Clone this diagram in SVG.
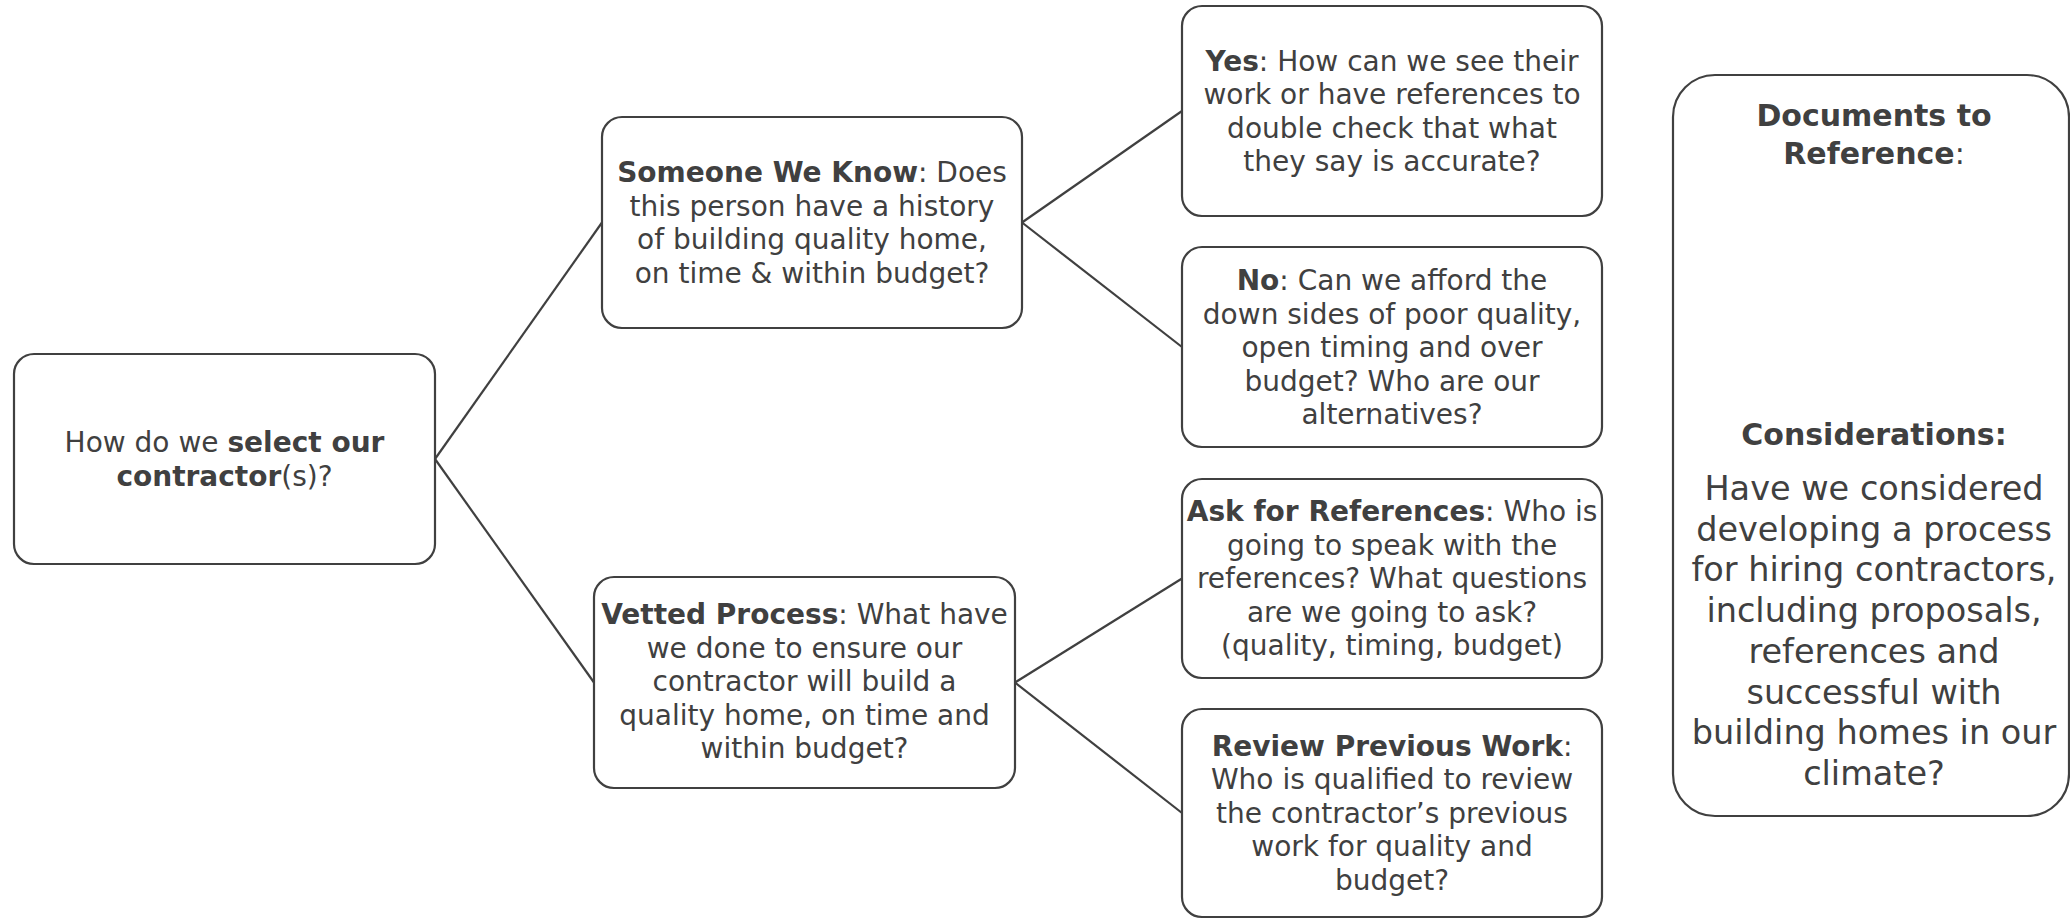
<svg xmlns="http://www.w3.org/2000/svg" width="2070" height="919" viewBox="0 0 2070 919">
<style>
.box{fill:#ffffff;stroke:#404040;stroke-width:2.2}
.t{font-family:"DejaVu Sans","Liberation Sans",sans-serif;font-size:28px;fill:#404040;text-anchor:middle}
.big{font-size:33.5px}
.h{font-family:"DejaVu Sans","Liberation Sans",sans-serif;font-size:30px;font-weight:bold;fill:#404040;text-anchor:middle}
.b{font-weight:bold}
.n{font-weight:normal}
.c{fill:none;stroke:#404040;stroke-width:2.2}
</style>
<rect width="2070" height="919" fill="#ffffff"/>
<g id="connectors">
<line class="c" x1="435" y1="459" x2="602" y2="222.5"/>
<line class="c" x1="435" y1="459" x2="594" y2="682.5"/>
<line class="c" x1="1022" y1="222.5" x2="1182" y2="111"/>
<line class="c" x1="1022" y1="222.5" x2="1182" y2="347"/>
<line class="c" x1="1015" y1="682.5" x2="1182" y2="578.5"/>
<line class="c" x1="1015" y1="682.5" x2="1182" y2="813"/>
</g>
<g id="root">
<rect class="box" x="14" y="354" width="421" height="210" rx="20"/>
<text class="t" x="224.5" y="452">How do we <tspan class="b">select our</tspan></text>
<text class="t" x="224.5" y="485.5"><tspan class="b">contractor</tspan>(s)?</text>
</g>
<g id="someone">
<rect class="box" x="602" y="117" width="420" height="211" rx="20"/>
<text class="t" x="812" y="182"><tspan class="b">Someone We Know</tspan>: Does</text>
<text class="t" x="812" y="215.5">this person have a history</text>
<text class="t" x="812" y="249">of building quality home,</text>
<text class="t" x="812" y="282.5">on time &amp; within budget?</text>
</g>
<g id="vetted">
<rect class="box" x="594" y="577" width="421" height="211" rx="20"/>
<text class="t" x="804.5" y="624"><tspan class="b">Vetted Process</tspan>: What have</text>
<text class="t" x="804.5" y="657.5">we done to ensure our</text>
<text class="t" x="804.5" y="691">contractor will build a</text>
<text class="t" x="804.5" y="724.5">quality home, on time and</text>
<text class="t" x="804.5" y="758">within budget?</text>
</g>
<g id="yes">
<rect class="box" x="1182" y="6" width="420" height="210" rx="20"/>
<text class="t" x="1392" y="70.5"><tspan class="b">Yes</tspan>: How can we see their</text>
<text class="t" x="1392" y="104">work or have references to</text>
<text class="t" x="1392" y="137.5">double check that what</text>
<text class="t" x="1392" y="171">they say is accurate?</text>
</g>
<g id="no">
<rect class="box" x="1182" y="247" width="420" height="200" rx="20"/>
<text class="t" x="1392" y="290"><tspan class="b">No</tspan>: Can we afford the</text>
<text class="t" x="1392" y="323.5">down sides of poor quality,</text>
<text class="t" x="1392" y="357">open timing and over</text>
<text class="t" x="1392" y="390.5">budget? Who are our</text>
<text class="t" x="1392" y="424">alternatives?</text>
</g>
<g id="ask">
<rect class="box" x="1182" y="479" width="420" height="199" rx="20"/>
<text class="t" x="1392" y="521"><tspan class="b">Ask for References</tspan>: Who is</text>
<text class="t" x="1392" y="554.5">going to speak with the</text>
<text class="t" x="1392" y="588">references? What questions</text>
<text class="t" x="1392" y="621.5">are we going to ask?</text>
<text class="t" x="1392" y="655">(quality, timing, budget)</text>
</g>
<g id="review">
<rect class="box" x="1182" y="709" width="420" height="208" rx="20"/>
<text class="t" x="1392" y="755.5"><tspan class="b">Review Previous Work</tspan>:</text>
<text class="t" x="1392" y="789">Who is qualified to review</text>
<text class="t" x="1392" y="822.5">the contractor’s previous</text>
<text class="t" x="1392" y="856">work for quality and</text>
<text class="t" x="1392" y="889.5">budget?</text>
</g>
<g id="side">
<rect class="box" x="1673" y="75" width="396" height="741" rx="42"/>
<text class="h" x="1874" y="126">Documents to</text>
<text class="h" x="1874" y="164">Reference<tspan class="n">:</tspan></text>
<text class="h" x="1874" y="445">Considerations:</text>
<text class="t big" x="1874" y="500">Have we considered</text>
<text class="t big" x="1874" y="540.7">developing a process</text>
<text class="t big" x="1874" y="581.4">for hiring contractors,</text>
<text class="t big" x="1874" y="622.1">including proposals,</text>
<text class="t big" x="1874" y="662.8">references and</text>
<text class="t big" x="1874" y="703.5">successful with</text>
<text class="t big" x="1874" y="744.2">building homes in our</text>
<text class="t big" x="1874" y="785">climate?</text>
</g>
</svg>
